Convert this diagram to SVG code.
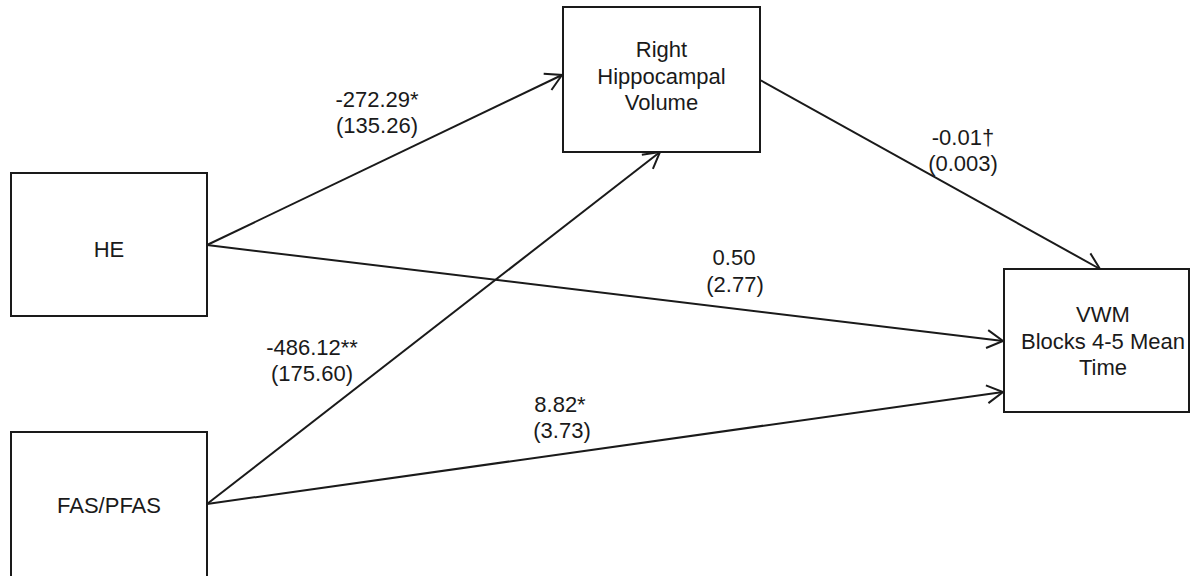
<svg xmlns="http://www.w3.org/2000/svg" width="1193" height="576" viewBox="0 0 1193 576">
<style>
.box{fill:#fff;stroke:#1a1a1a;stroke-width:2}
.t{font-family:"Liberation Sans",Arial,sans-serif;font-size:22px;fill:#1a1a1a;text-anchor:middle}
.c{stroke:#1a1a1a;stroke-width:2;fill:none;marker-end:url(#ah)}
</style>
<defs>
<marker id="ah" markerUnits="userSpaceOnUse" markerWidth="24" markerHeight="24" viewBox="-20 -12 24 24" refX="0" refY="0" orient="auto">
<path d="M-16,-9 L0,0 L-16,9" fill="none" stroke="#1a1a1a" stroke-width="2"/>
</marker>
</defs>
<rect width="1193" height="576" fill="#fff"/>
<g id="connectors">
<line class="c" x1="207" y1="245" x2="562" y2="75"/>
<line class="c" x1="207" y1="245" x2="1003" y2="341"/>
<line class="c" x1="207" y1="504" x2="660" y2="152"/>
<line class="c" x1="207" y1="504" x2="1003" y2="392"/>
<line class="c" x1="760" y1="80" x2="1100" y2="269"/>
</g>
<g id="labels">
<text class="t" x="377" y="107">-272.29*</text>
<text class="t" x="377" y="133">(135.26)</text>
<text class="t" x="963" y="145">-0.01†</text>
<text class="t" x="963" y="171">(0.003)</text>
<text class="t" x="734" y="265">0.50</text>
<text class="t" x="735" y="292">(2.77)</text>
<text class="t" x="312" y="355">-486.12**</text>
<text class="t" x="312" y="381">(175.60)</text>
<text class="t" x="560" y="412">8.82*</text>
<text class="t" x="562" y="438">(3.73)</text>
</g>
<g id="node-he">
<rect class="box" x="11" y="173" width="196" height="143"/>
<text class="t" x="109" y="257">HE</text>
</g>
<g id="node-fas">
<rect class="box" x="11" y="432" width="196" height="150"/>
<text class="t" x="109" y="513">FAS/PFAS</text>
</g>
<g id="node-rhv">
<rect class="box" x="563" y="7" width="197" height="145"/>
<text class="t" x="661.5" y="57">Right</text>
<text class="t" x="661.5" y="83.5">Hippocampal</text>
<text class="t" x="661.5" y="110">Volume</text>
</g>
<g id="node-vwm">
<rect class="box" x="1004" y="269" width="185" height="143"/>
<text class="t" x="1103" y="322">VWM</text>
<text class="t" x="1103" y="349">Blocks 4-5 Mean</text>
<text class="t" x="1103" y="375">Time</text>
</g>
</svg>
